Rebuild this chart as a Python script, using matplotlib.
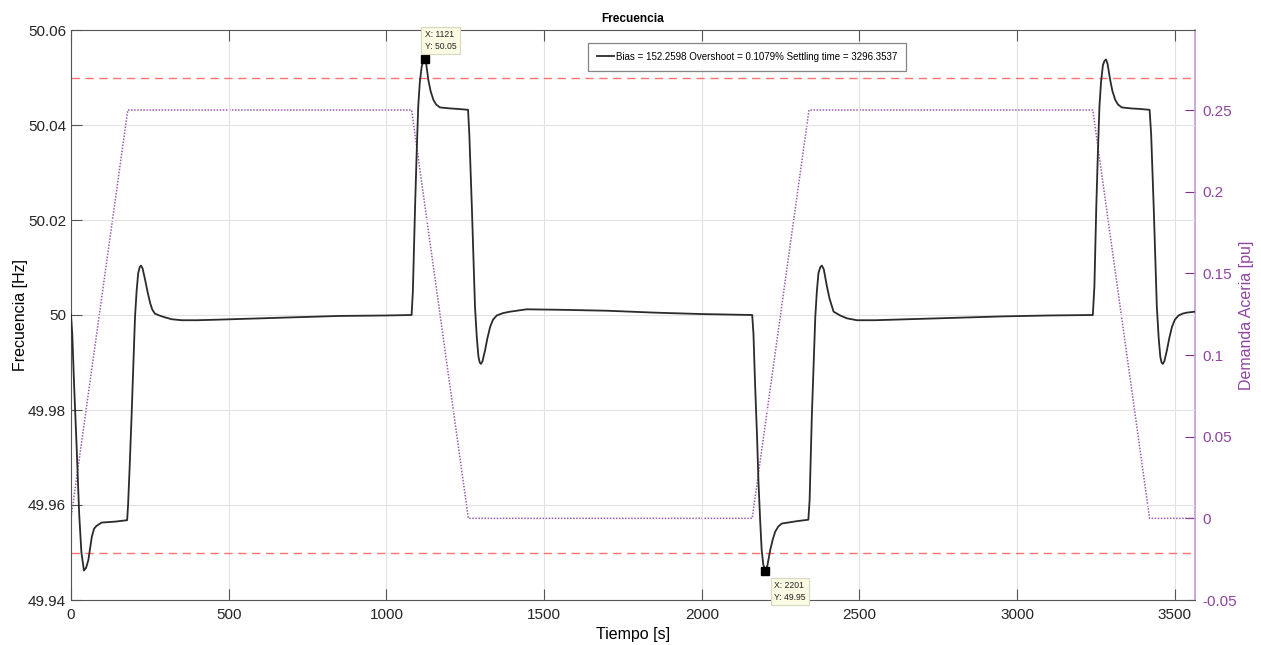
import numpy as np
import matplotlib.pyplot as plt
from matplotlib import font_manager

# --- Data ---
t_freq = [0, 4, 10, 18, 26, 33, 41, 48, 55, 61, 66, 73, 81, 97, 140, 178,
          181, 186, 192, 198, 203, 208, 213, 218, 222, 227, 235, 243, 251, 258, 266,
          280, 298, 320, 351, 400, 457, 550, 700, 850, 1000, 1080,
          1084, 1091, 1096, 1101, 1106, 1112, 1117, 1121, 1126, 1133, 1140, 1149,
          1158, 1170, 1200, 1223, 1259,
          1263, 1271, 1276, 1281, 1287, 1292, 1296, 1300, 1305, 1313, 1320, 1329,
          1338, 1350, 1370, 1392, 1445, 1550, 1700, 1850, 2000, 2160,
          2164, 2169, 2175, 2180, 2185, 2190, 2195, 2201, 2208, 2217, 2225, 2233,
          2243, 2254, 2302, 2338,
          2342, 2349, 2355, 2360, 2365, 2370, 2376, 2381, 2387, 2397, 2405, 2418,
          2439, 2460, 2492, 2550, 2650, 2800, 2950, 3100, 3240,
          3245, 3251, 3256, 3261, 3266, 3272, 3277, 3282, 3287, 3295, 3302, 3311,
          3320, 3332, 3360, 3385, 3420,
          3425, 3433, 3438, 3443, 3449, 3454, 3458, 3462, 3467, 3475, 3482, 3491,
          3500, 3512, 3525, 3538, 3564]
f_freq = [50.0000, 49.9960, 49.9850, 49.9720, 49.9580, 49.9500, 49.9462, 49.9468,
          49.9484, 49.9510, 49.9533, 49.9550, 49.9556, 49.9563, 49.9565, 49.9568,
          49.9600, 49.9680, 49.9786, 49.9900, 49.9996, 50.0050, 50.0088, 50.0101,
          50.0104, 50.0098, 50.0074, 50.0048, 50.0025, 50.0011, 50.0003,
          49.9999, 49.9995, 49.9991, 49.9989, 49.9989, 49.9990, 49.9992, 49.9995,
          49.9998, 49.9999, 50.0000,
          50.0050, 50.0228, 50.0340, 50.0439, 50.0490, 50.0523, 50.0535, 50.0540,
          50.0530, 50.0495, 50.0472, 50.0453, 50.0443, 50.0437, 50.0435, 50.0434,
          50.0432,
          50.0380, 50.0228, 50.0120, 50.0017, 49.9950, 49.9912, 49.9900, 49.9897,
          49.9903, 49.9926, 49.9950, 49.9975, 49.9990, 49.9999, 50.0004, 50.0007,
          50.0012, 50.0011, 50.0009, 50.0005, 50.0002, 50.0000,
          49.9960, 49.9856, 49.9750, 49.9646, 49.9570, 49.9505, 49.9475, 49.9462,
          49.9472, 49.9505, 49.9527, 49.9544, 49.9555, 49.9561, 49.9566, 49.9569,
          49.9610, 49.9786, 49.9900, 49.9996, 50.0050, 50.0088, 50.0101, 50.0104,
          50.0096, 50.0060, 50.0035, 50.0007, 49.9999, 49.9993, 49.9989, 49.9989,
          49.9991, 49.9994, 49.9997, 49.9999, 50.0000,
          50.0060, 50.0228, 50.0340, 50.0439, 50.0490, 50.0526, 50.0535, 50.0538,
          50.0528, 50.0495, 50.0472, 50.0453, 50.0443, 50.0437, 50.0435, 50.0434,
          50.0432,
          50.0380, 50.0228, 50.0120, 50.0017, 49.9950, 49.9912, 49.9900, 49.9897,
          49.9903, 49.9926, 49.9950, 49.9975, 49.9990, 49.9999, 50.0003, 50.0005,
          50.0007]

t_dem = [0, 180, 1080, 1260, 2160, 2340, 3240, 3420, 3564]
d_dem = [0, 0.25, 0.25, 0, 0, 0.25, 0.25, 0, 0]

f_limits = [50.05, 49.95]

tips_t = [1121, 2201]
tips_f = [50.054, 49.9462]
tips_txt = ["X: 1121\nY: 50.05", "X: 2201\nY: 49.95"]

legend_txt = "Bias = 152.2598 Overshoot = 0.1079% Settling time = 3296.3537"

x_ticks = [0, 500, 1000, 1500, 2000, 2500, 3000, 3500]
yl_ticks = [49.94, 49.96, 49.98, 50.0, 50.02, 50.04, 50.06]
yl_labels = ["49.94", "49.96", "49.98", "50", "50.02", "50.04", "50.06"]
yr_ticks = [-0.05, 0, 0.05, 0.1, 0.15, 0.2, 0.25]
yr_labels = ["-0.05", "0", "0.05", "0.1", "0.15", "0.2", "0.25"]

# --- Style ---
plt.rcParams['font.family'] = ['Liberation Sans', 'DejaVu Sans']
AX_COL = '#555555'
PURPLE = '#7E2F8E'

# the legend / title text in the reference is condensed; use a narrow face if present
try:
    font_manager.findfont('Liberation Sans Narrow', fallback_to_default=False)
    narrow = ['Liberation Sans Narrow', 'Liberation Sans']
    leg_size, title_size = 8.4, 10.5
except Exception:
    narrow = ['Liberation Sans', 'DejaVu Sans']
    leg_size, title_size = 7.0, 8.6

fig = plt.figure(figsize=(12.61, 6.45), dpi=100)
ax = fig.add_axes([71 / 1261, 45 / 645, 1124 / 1261, 570 / 645])
ax2 = ax.twinx()

# right axis: demand
ax2.plot(t_dem, d_dem, color='#9a5cb0', linestyle=(0, (1, 1)), linewidth=1.1)
ax2.set_ylim(-0.05, 0.299)
ax2.set_yticks(yr_ticks)
ax2.set_yticklabels(yr_labels)
ax2.tick_params(axis='y', direction='in', length=7, colors=PURPLE,
                labelcolor='#8e44a0', labelsize=11, pad=5)
ax2.set_ylabel('Demanda Aceria [pu]', color='#8e44a0', fontsize=11.5, labelpad=2)
for s in ['left', 'top', 'bottom']:
    ax2.spines[s].set_visible(False)
ax2.spines['right'].set_color('#c39bd0')
ax2.spines['right'].set_linewidth(1.2)

# left axis: frequency, drawn on top
ax.set_zorder(ax2.get_zorder() + 1)
ax.patch.set_visible(False)

for lim in f_limits:
    ax.axhline(lim, color='#ff7373', linestyle=(0, (6, 4)), linewidth=1.0, zorder=2)

line, = ax.plot(t_freq, f_freq, color='#2b2b2b', linewidth=1.3, zorder=3,
                label=legend_txt)

ax.set_xlim(0, 3564)
ax.set_ylim(49.94, 50.06)
ax.set_xticks(x_ticks)
ax.set_yticks(yl_ticks)
ax.set_yticklabels(yl_labels)
ax.grid(True, color='#e2e2e2', linewidth=0.8, zorder=0)
ax.set_axisbelow(True)
ax.tick_params(axis='both', direction='in', length=8, colors=AX_COL,
               labelcolor='#262626', labelsize=11)
ax.tick_params(axis='x', top=True, pad=6)
for s in ['left', 'top', 'bottom']:
    ax.spines[s].set_color(AX_COL)
ax.spines['right'].set_visible(False)

ax.set_title('Frecuencia', fontsize=title_size, fontweight='bold', pad=6,
             family=narrow)
ax.set_xlabel('Tiempo [s]', fontsize=11.5, labelpad=3)
ax.set_ylabel('Frecuencia [Hz]', fontsize=11.5, labelpad=0)

# data tips
offsets = [(0, 5.5), (6.5, -7.5)]
valign = ['bottom', 'top']
for tt, ff, txt, off, va in zip(tips_t, tips_f, tips_txt, offsets, valign):
    ax.plot(tt, ff, marker='s', color='black', markersize=5.5, zorder=5,
            clip_on=False)
    ax.annotate(txt, xy=(tt, ff), xytext=off, textcoords='offset points',
                ha='left', va=va, fontsize=6.2, color='#222222', zorder=6,
                linespacing=1.4, annotation_clip=False,
                bbox=dict(boxstyle='square,pad=0.4', fc='#fbfbe3',
                          ec='#d8d8c0', lw=0.8))

leg = ax.legend(handles=[line], loc='upper left', bbox_to_anchor=(0.46, 0.977),
                prop={'family': narrow, 'size': leg_size}, frameon=True,
                fancybox=False, handlelength=1.8, handletextpad=0.2,
                borderpad=0.9, borderaxespad=0)
leg.get_frame().set_edgecolor('#666666')
leg.get_frame().set_linewidth(0.9)

fig.savefig('out.png', dpi=100)
